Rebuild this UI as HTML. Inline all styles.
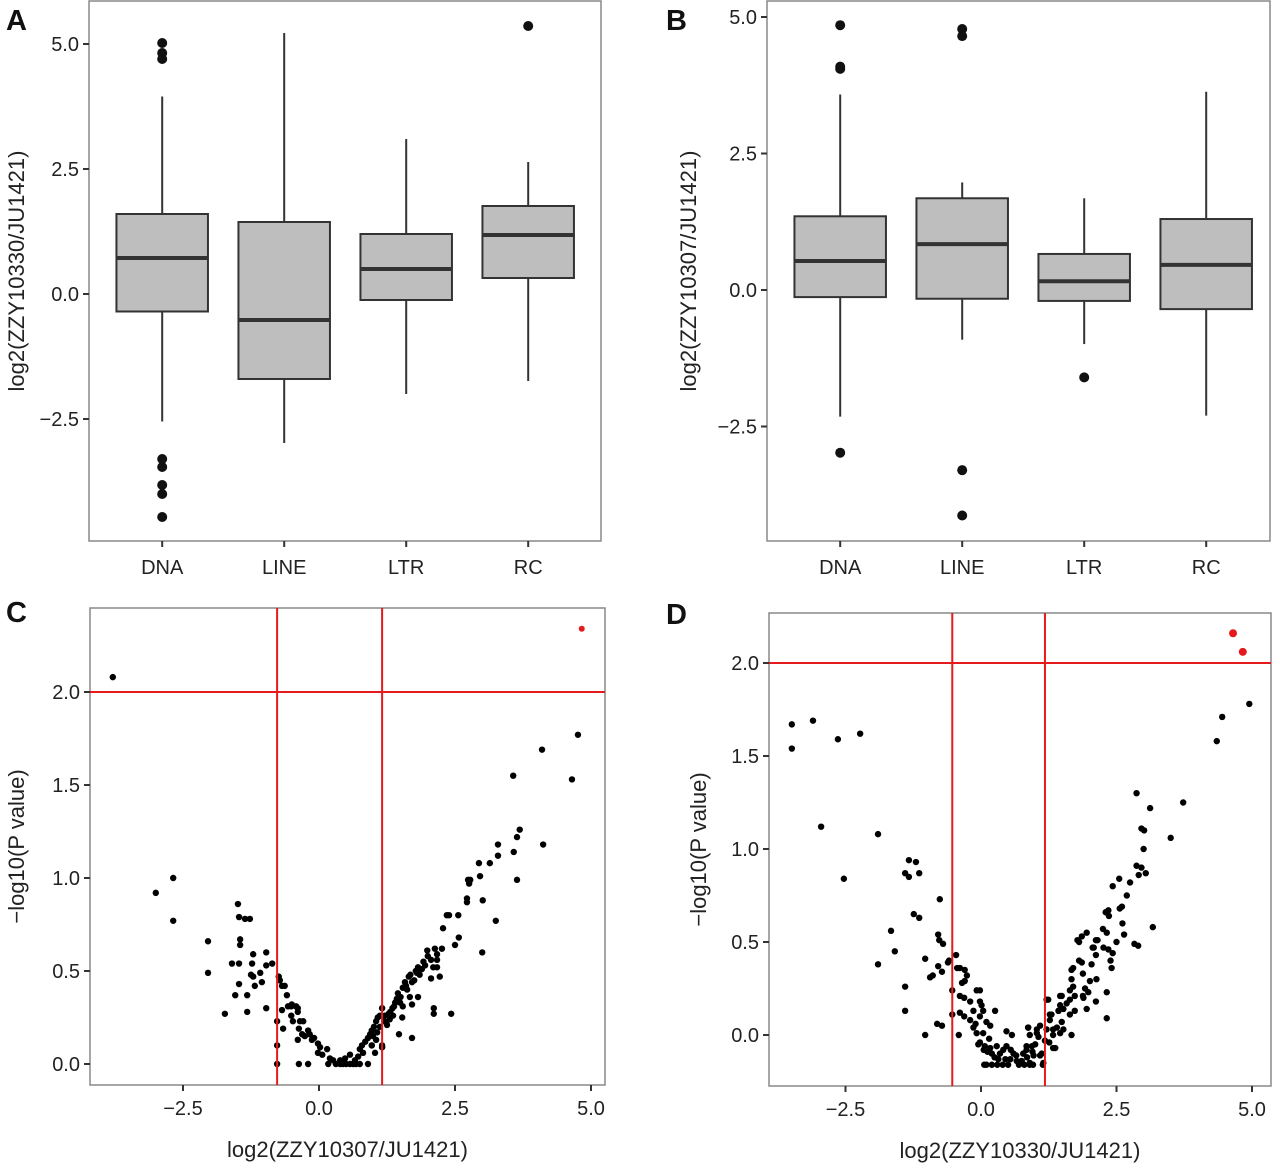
<!DOCTYPE html>
<html><head><meta charset="utf-8"><style>
html,body{margin:0;padding:0;background:#fff}
svg{display:block;font-family:"Liberation Sans",Arial,sans-serif}
</style></head><body>
<svg id="fig" width="1280" height="1171" viewBox="0 0 1280 1171" xmlns="http://www.w3.org/2000/svg"></svg>
<script>
// ---------- Box plot data ----------
const boxCategories = ["DNA","LINE","LTR","RC"];
const boxA_q1 = [-0.35,-1.70,-0.12,0.32];
const boxA_med = [0.72,-0.52,0.50,1.18];
const boxA_q3 = [1.60,1.44,1.20,1.76];
const boxA_lo = [-2.55,-2.98,-2.00,-1.74];
const boxA_hi = [3.95,5.22,3.10,2.64];
const boxA_out = [[5.02,4.82,4.70,-3.30,-3.46,-3.82,-4.00,-4.46],[],[],[5.36]];
const boxB_q1 = [-0.13,-0.16,-0.20,-0.35];
const boxB_med = [0.53,0.84,0.16,0.46];
const boxB_q3 = [1.35,1.68,0.66,1.30];
const boxB_lo = [-2.32,-0.91,-0.99,-2.30];
const boxB_hi = [3.58,1.97,1.68,3.63];
const boxB_out = [[4.85,4.09,4.05,-2.98],[4.78,4.65,-3.30,-4.13],[-1.60],[]];
const boxYTicks = [-2.5,0,2.5,5];
const boxYTickLabels = ["\u22122.5","0.0","2.5","5.0"];

// ---------- Volcano data ----------
const volXTicks = [-2.5,0,2.5,5];
const volXTickLabels = ["\u22122.5","0.0","2.5","5.0"];
const volYTicks = [0,0.5,1,1.5,2];
const volYTickLabels = ["0.0","0.5","1.0","1.5","2.0"];
const volC_x = [-3.0,-2.68,-2.68,-2.04,-2.04,-1.73,-1.6,-1.54,-1.49,-1.47,-1.36,-1.27,-1.47,-1.47,-1.45,-1.45,-1.32,-1.32,-1.23,-1.21,-1.25,-1.21,-1.18,-1.08,-1.05,-0.97,-0.97,-0.97,-0.86,-0.77,-0.77,-0.77,-0.74,-0.72,-0.68,-0.63,-0.59,-0.66,-0.68,-0.57,-0.51,-0.5,-0.42,-0.39,-0.39,-0.48,-0.51,-0.35,-0.29,-0.37,-0.31,-0.39,-0.37,-0.2,-0.26,-0.2,-0.17,-0.13,-0.09,-0.02,0.02,-0.02,0.06,0.17,0.15,0.2,0.26,0.31,0.39,0.44,0.5,0.57,0.63,0.68,0.75,0.39,0.48,0.57,0.66,0.72,0.75,0.79,0.85,0.9,0.94,0.97,1.01,1.05,1.08,1.12,0.9,0.81,0.97,1.05,1.16,1.16,1.16,
4.76,4.1,3.57,4.65,3.69,3.64,3.29,4.12,3.58,3.29,3.14,2.94,2.96,3.64,2.74,2.78,2.76,2.72,2.72,3.01,3.25,2.35,2.39,2.56,2.28,2.57,2.5,3.0,1.99,2.13,2.26,2.06,2.17,2.17,2.1,2.17,2.22,2.06,1.82,1.89,1.8,1.65,1.71,1.54,1.43,1.49,1.54,1.67,1.71,1.82,2.11,2.11,2.43,1.31,1.36,1.53,1.21,1.25,1.47,1.71,1.07,0.99,0.97,1.03,1.16,
1.35,1.4,1.45,1.6,1.75,1.85,1.95,2.0,1.3,1.5,1.62,1.78,1.92,1.58,1.68,1.38,1.28,1.12,1.2,-3.79];
const volC_y = [0.92,1.0,0.77,0.66,0.49,0.27,0.54,0.37,0.86,0.79,0.78,0.78,0.54,0.43,0.67,0.64,0.37,0.28,0.54,0.59,0.48,0.47,0.42,0.49,0.44,0.6,0.53,0.3,0.54,0.23,0.1,0.0,0.47,0.45,0.42,0.42,0.37,0.19,0.29,0.31,0.31,0.32,0.31,0.3,0.28,0.23,0.26,0.23,0.23,0.19,0.16,0.13,0.0,0.0,0.15,0.18,0.16,0.13,0.14,0.11,0.09,0.06,0.05,0.0,0.08,0.03,0.02,0,0,0,0,0,0,0,0,0.02,0.03,0.05,0.02,0.04,0.08,0.1,0.12,0.14,0.16,0.18,0.2,0.23,0.25,0.26,0,0.06,0.1,0.13,0.1,0.09,0.3,
1.77,1.69,1.55,1.53,1.26,1.22,1.18,1.18,1.14,1.12,1.08,1.08,1.01,0.99,0.99,0.99,0.97,0.89,0.87,0.88,0.77,0.8,0.8,0.8,0.73,0.68,0.64,0.6,0.61,0.62,0.62,0.56,0.59,0.56,0.52,0.52,0.47,0.46,0.52,0.51,0.49,0.47,0.44,0.41,0.35,0.33,0.31,0.36,0.32,0.36,0.3,0.27,0.27,0.28,0.26,0.25,0.26,0.21,0.16,0.14,0.17,0.15,0.1,0.06,0.09,
0.3,0.33,0.38,0.42,0.45,0.48,0.53,0.58,0.24,0.36,0.4,0.5,0.55,0.44,0.48,0.31,0.27,0.2,0.23,2.08];
const volC_sigX = [4.83];
const volC_sigY = [2.34];
const volC_vlines = [-0.77,1.16];
const volC_hline = [2.0];

const volD_x = [-3.49,-3.49,-3.1,-2.64,-2.23,-2.95,-2.53,-1.9,-1.33,-1.2,-1.4,-1.33,-1.14,-0.76,-1.24,-1.14,-1.66,-1.59,-1.9,-1.4,-1.4,-1.03,-1.03,-0.79,-0.77,-0.7,-0.81,-0.72,-0.94,-0.89,-0.79,-0.72,-0.61,-0.59,-0.46,-0.44,-0.39,-0.3,-0.26,-0.35,-0.3,-0.53,-0.53,-0.39,-0.31,-0.2,-0.39,-0.31,-0.41,
-0.14,-0.08,-0.02,-0.02,0.01,0.04,-0.02,-0.14,-0.08,0.04,0.1,0.17,0.26,-0.02,0.07,0.17,0.06,0.29,0.32,0.41,0.47,0.47,0.57,0.6,0.54,0.66,0.78,0.84,0.87,0.94,0.96,1.03,1.09,1.12,1.14,1.18,1.21,1.27,1.33,1.37,1.43,1.46,
0.1,0.2,0.3,0.4,0.5,0.7,0.8,0.9,0.25,0.35,0.45,0.55,0.65,0.75,0.85,0.2,0.12,0.95,1.0,0.05,-0.05,0.15,-0.1,-0.2,
4.95,4.45,4.35,2.87,3.73,3.12,2.96,3.01,3.5,3.0,2.87,2.96,2.91,3.04,2.55,2.43,2.75,2.69,2.6,2.56,2.35,2.3,2.36,2.61,3.17,2.25,2.32,2.64,2.5,2.83,2.9,1.95,1.86,1.78,1.81,2.15,2.12,2.06,2.08,2.12,2.04,2.26,2.35,2.43,2.39,2.41,2.32,2.32,2.13,2.12,1.81,1.86,1.7,1.67,1.88,2.01,1.92,1.98,1.89,1.95,1.88,1.67,1.7,1.64,1.73,1.64,1.58,1.73,1.49,1.46,1.52,1.43,1.64,1.49,1.4,1.52,1.67,1.46,1.33,1.3,1.27,1.24,1.33,1.26,1.21,0.87,0.9,1.03,1.06,0.84,0.78,0.97,1.09,1.15,0.9,0.75];
const volD_y = [1.67,1.54,1.69,1.59,1.62,1.12,0.84,1.08,0.94,0.93,0.87,0.85,0.87,0.73,0.65,0.63,0.56,0.45,0.38,0.26,0.13,0.41,0.0,0.54,0.51,0.49,0.06,0.05,0.31,0.32,0.37,0.34,0.39,0.4,0.43,0.36,0.36,0.35,0.32,0.28,0.29,0.24,0.11,0.21,0.2,0.18,0.12,0.1,0.0,
0.13,0.24,0.24,0.18,0.16,0.13,0.1,0.04,0.01,0.01,0.07,0.05,0.13,-0.04,-0.06,-0.07,-0.16,-0.06,-0.13,-0.08,-0.06,0.02,0.0,-0.1,-0.13,-0.14,-0.1,-0.08,0.04,-0.06,-0.16,0.01,0.05,-0.1,-0.16,-0.03,0.19,0.11,0.03,-0.07,0.13,0.21,
-0.16,-0.16,-0.16,-0.16,-0.16,-0.16,-0.16,-0.16,-0.12,-0.1,-0.13,-0.08,-0.11,-0.14,-0.12,-0.1,-0.09,-0.09,-0.05,-0.08,-0.05,-0.02,0.06,0.08,
1.78,1.71,1.58,1.3,1.25,1.22,1.11,1.1,1.06,1.0,0.91,0.9,0.86,0.87,0.84,0.8,0.82,0.75,0.69,0.68,0.67,0.66,0.64,0.6,0.58,0.57,0.55,0.54,0.5,0.49,0.48,0.55,0.53,0.51,0.5,0.51,0.51,0.47,0.47,0.43,0.38,0.47,0.46,0.44,0.4,0.36,0.23,0.09,0.3,0.18,0.4,0.39,0.36,0.35,0.33,0.29,0.25,0.23,0.2,0.14,0.21,0.3,0.26,0.24,0.21,0.19,0.17,0.13,0.21,0.16,0.14,0.13,0.11,0.07,0.04,0.03,0.0,0.01,0.0,0.11,0.08,0.19,-0.07,-0.04,0.03,0.04,0.0,0.03,-0.01,-0.06,-0.1,-0.11,-0.11,-0.15,-0.15,-0.14];
const volD_sigX = [4.65,4.83];
const volD_sigY = [2.16,2.06];
const volD_vlines = [-0.53,1.18];
const volD_hline = [2.0];

const NS = "http://www.w3.org/2000/svg";
const svg = document.getElementById("fig");
function el(tag, attrs, parent, text){
  const e = document.createElementNS(NS, tag);
  for (const k in attrs) e.setAttribute(k, attrs[k]);
  if (text !== undefined) e.textContent = text;
  (parent || svg).appendChild(e);
  return e;
}
function linScale(d0,d1,r0,r1){ return v => r0 + (v-d0)*(r1-r0)/(d1-d0); }

function frame(g, L,T,R,B){
  const f = el("rect",{x:L,y:T,width:R-L,height:B-T,fill:"none",stroke:"#888","stroke-width":1.5},g);
  
  
}
function yAxis(g, L, ticks, labels, ys){
  ticks.forEach((t,i)=>{
    const y = ys(t);
    const tk = el("line",{x1:L-6,x2:L,y1:y,y2:y,stroke:"#333","stroke-width":2},g);
    
    
    const tx = el("text",{x:L-10,y:y+7,"text-anchor":"end","font-size":20,fill:"#222"},g,labels[i]);
    
    
  });
}
function xAxis(g, B, ticks, labels, xs){
  ticks.forEach((t,i)=>{
    const x = xs(t);
    const tk = el("line",{x1:x,x2:x,y1:B,y2:B+6,stroke:"#333","stroke-width":2},g);
    
    
    const tx = el("text",{x:x,y:B+30,"text-anchor":"middle","font-size":20,fill:"#222"},g,labels[i]);
    
    
  });
}
function panelLetter(x,y,t){
  const e = el("text",{x:x,y:y,"font-size":29,"font-weight":"bold",fill:"#111"},svg,t);
  
  
}
function yTitle(g,x,y,t){
  const e = el("text",{x:x,y:y,"text-anchor":"middle","font-size":22,fill:"#222",transform:`rotate(-90 ${x} ${y})`},g,t);
  
  
}
function xTitle(g,x,y,t){
  const e = el("text",{x:x,y:y,"text-anchor":"middle","font-size":22,fill:"#222"},g,t);
  
  
}

function boxPanel(name, L,T,R,B, unit, yv0,yp0,yv1,yp1, q1,med,q3,lo,hi,outs, title, titleX){
  const g = el("g",{});
  
  
  const ys = linScale(yv0,yv1,yp0,yp1);
  const xs = i => L + unit*(0.6+i);
  const bw = unit*0.75;
  frame(g,L,T,R,B);
  yAxis(g,L,boxYTicks,boxYTickLabels,ys);
  boxCategories.forEach((c,i)=>{
    const x = xs(i);
    const bg = el("g",{},g);
    
    
    const w1 = el("line",{x1:x,x2:x,y1:ys(q3[i]),y2:ys(hi[i]),stroke:"#333","stroke-width":2},bg);
    
    
    const w2 = el("line",{x1:x,x2:x,y1:ys(q1[i]),y2:ys(lo[i]),stroke:"#333","stroke-width":2},bg);
    
    
    const r = el("rect",{x:x-bw/2,y:ys(q3[i]),width:bw,height:ys(q1[i])-ys(q3[i]),fill:"#bebebe",stroke:"#333","stroke-width":2},bg);
    
    
    const m = el("line",{x1:x-bw/2,x2:x+bw/2,y1:ys(med[i]),y2:ys(med[i]),stroke:"#333","stroke-width":4},bg);
    
    
    outs[i].forEach(v=>{
      const o = el("circle",{cx:x,cy:ys(v),r:5,fill:"#111"},bg);
      
      
    });
    const tk = el("line",{x1:x,x2:x,y1:B,y2:B+6,stroke:"#333","stroke-width":2},g);
    
    
    const tx = el("text",{x:x,y:B+33,"text-anchor":"middle","font-size":20,fill:"#222"},g,c);
    
    
  });
  yTitle(g,titleX,(T+B)/2,title);
}

function volcanoPanel(name, L,T,R,B, xv0,xp0,xv1,xp1, yv0,yp0,yv1,yp1, px,py,sx,sy,vl,hl, ytitle, ytx, xtitle){
  const g = el("g",{});
  
  
  const xs = linScale(xv0,xv1,xp0,xp1);
  const ys = linScale(yv0,yv1,yp0,yp1);
  frame(g,L,T,R,B);
  yAxis(g,L,volYTicks,volYTickLabels,ys);
  xAxis(g,B,volXTicks,volXTickLabels,xs);
  const pts = el("g",{},g);
  
  
  px.forEach((v,i)=>{
    const c = el("circle",{cx:xs(v),cy:ys(py[i]),r:3.2,fill:"#000"},pts);
    
    
  });
  vl.forEach(v=>{
    const l = el("line",{x1:xs(v),x2:xs(v),y1:T,y2:B,stroke:"#e41a1c","stroke-width":2},g);
    
    
  });
  hl.forEach(v=>{
    const l = el("line",{x1:L,x2:R,y1:ys(v),y2:ys(v),stroke:"#e41a1c","stroke-width":2},g);
    
    
  });
  sx.forEach((v,i)=>{
    const c = el("circle",{cx:xs(v),cy:ys(sy[i]),r: (name==="panel-d"?4:3),fill:"#e41a1c"},g);
    
    
  });
  yTitle(g,ytx,(T+B)/2,ytitle);
  xTitle(g,(L+R)/2,B+72,xtitle);
}

boxPanel("panel-a",89,1,601,541,122, 0,294,5,44, boxA_q1,boxA_med,boxA_q3,boxA_lo,boxA_hi,boxA_out,"log2(ZZY10330/JU1421)",24);
boxPanel("panel-b",767,1,1270,541,122, 0,290,5,17, boxB_q1,boxB_med,boxB_q3,boxB_lo,boxB_hi,boxB_out,"log2(ZZY10307/JU1421)",696);
volcanoPanel("panel-c",90,608,605,1085, 0,319,5,591, 0,1064,2,692, volC_x,volC_y,volC_sigX,volC_sigY,volC_vlines,volC_hline,"\u2212log10(P value)",24,"log2(ZZY10307/JU1421)");
volcanoPanel("panel-d",769,613,1271,1086, 0,981,5,1252, 0,1035,2,663, volD_x,volD_y,volD_sigX,volD_sigY,volD_vlines,volD_hline,"\u2212log10(P value)",706,"log2(ZZY10330/JU1421)");
panelLetter(6,30,"A");
panelLetter(666,30,"B");
panelLetter(6,622,"C");
panelLetter(666,624,"D");
</script>
</body></html>
